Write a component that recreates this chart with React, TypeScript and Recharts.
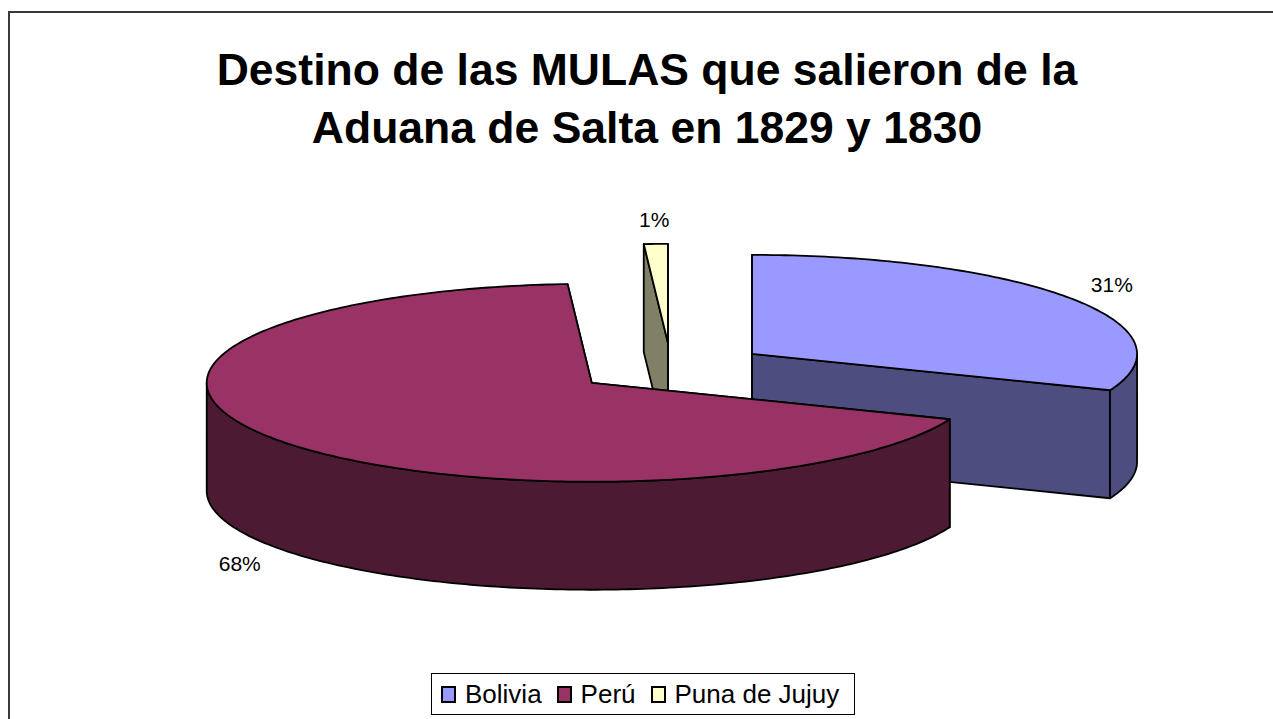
import { Pie, PieChart } from 'recharts';

const categories = ['Bolivia', 'Perú', 'Puna de Jujuy'];
const shares = [31, 68, 1];
const topColors = ['#9999FF', '#993366', '#FFFFCC'];
const sideColors = ['#4D4D80', '#4D1A33', '#808066'];

const TITLE = ['Destino de las MULAS que salieron de la', 'Aduana de Salta en 1829 y 1830'];

// flattened 3D look: vertical squash, thickness and explode distance
const TILT = 0.257;
const DEPTH = 108;
const EXPLODE = 98;
const RADIUS = 385;
const RAD = Math.PI / 180;

// Perú has to be painted last so its top covers the two other slices,
// so the pie starts at the Puna edge and goes clockwise
const drawOrder = [2, 0, 1];
const rows = drawOrder.map((i) => ({
  name: categories[i],
  value: shares[i],
  top: topColors[i],
  side: sideColors[i]
}));
const total = shares.reduce((a, b) => a + b, 0);
const START = 90 + (360 * shares[2]) / total;

function offset(cx: number, cy: number, mid: number) {
  return [cx + EXPLODE * Math.cos(mid * RAD), cy - EXPLODE * TILT * Math.sin(mid * RAD)];
}

function Slice3D(props: any) {
  const { cx, cy, outerRadius, startAngle, endAngle, midAngle } = props;
  const top = props.top ?? props.payload?.top;
  const side = props.side ?? props.payload?.side;
  const lo = Math.min(startAngle, endAngle);
  const hi = Math.max(startAngle, endAngle);
  const [ox, oy] = offset(cx, cy, midAngle);
  const pt = (a: number, z = 0) => [ox + outerRadius * Math.cos(a * RAD), oy - outerRadius * TILT * Math.sin(a * RAD) + z];
  const arc = (a0: number, a1: number, z: number) => {
    const n = Math.max(2, Math.ceil(Math.abs(a1 - a0)));
    const out: number[][] = [];
    for (let i = 0; i <= n; i++) out.push(pt(a0 + ((a1 - a0) * i) / n, z));
    return out;
  };
  const path = (pts: number[][]) => 'M' + pts.map((p) => `${p[0].toFixed(2)},${p[1].toFixed(2)}`).join('L') + 'Z';
  const c = [ox, oy];
  const cd = [ox, oy + DEPTH];

  const faces: string[] = [];
  [lo, hi].forEach((a) => faces.push(path([c, pt(a), pt(a, DEPTH), cd])));

  const walls: string[] = [];
  for (let n = -2; n <= 1; n++) {
    const a0 = Math.max(lo, -180 + 360 * n);
    const a1 = Math.min(hi, 360 * n);
    if (a1 > a0) walls.push(path([...arc(a0, a1, 0), ...arc(a1, a0, DEPTH)]));
  }

  const stroke = { stroke: '#000', strokeWidth: 1.8, strokeLinejoin: 'round' as const };
  return (
    <g>
      {faces.map((d, i) => <path key={'f' + i} d={d} fill={side} {...stroke} />)}
      {walls.map((d, i) => <path key={'w' + i} d={d} fill={side} {...stroke} />)}
      <path d={path([c, ...arc(lo, hi, 0)])} fill={top} {...stroke} />
    </g>
  );
}

function renderLabel(props: any) {
  const { cx, cy, midAngle, outerRadius, percent } = props;
  const [ox, oy] = offset(cx, cy, midAngle);
  const s = Math.sin(midAngle * RAD);
  const x = ox + 1.13 * outerRadius * Math.cos(midAngle * RAD);
  const y = oy - 1.13 * outerRadius * TILT * s + (s < 0 ? DEPTH : 0) - 12 * s;
  return (
    <text x={x} y={y} textAnchor="middle" dominantBaseline="central" fontSize={21} fill="#000" fontFamily="'Liberation Sans', Arial, sans-serif">
      {`${Math.round(percent * 100)}%`}
    </text>
  );
}

export default function App() {
  return (
    <div
      style={{
        position: 'absolute',
        left: 8,
        top: 11,
        width: 1265,
        height: 708,
        boxSizing: 'border-box',
        borderTop: '2px solid #3a3a3a',
        borderLeft: '2px solid #3a3a3a',
        overflow: 'hidden',
        background: '#fff',
        fontFamily: "'Liberation Sans', Arial, sans-serif"
      }}
    >
      <div
        style={{
          position: 'absolute',
          left: 0,
          top: 28,
          width: 1274,
          textAlign: 'center',
          fontSize: 44.5,
          fontWeight: 700,
          lineHeight: '58px',
          color: '#000'
        }}
      >
        {TITLE.map((line) => (
          <div key={line}>{line}</div>
        ))}
      </div>
      <div style={{ position: 'absolute', left: 0, top: 0 }}>
        <PieChart width={1263} height={706}>
          <Pie
            data={rows}
            dataKey="value"
            nameKey="name"
            cx={656}
            cy={350}
            outerRadius={RADIUS}
            startAngle={START}
            endAngle={START - 360}
            stroke="none"
            labelLine={false}
            label={renderLabel}
            shape={Slice3D}
            activeShape={Slice3D}
            inactiveShape={Slice3D}
            isAnimationActive={false}
          />
        </PieChart>
      </div>
      <div
        style={{
          position: 'absolute',
          left: 421,
          top: 660,
          width: 424,
          height: 42,
          boxSizing: 'border-box',
          border: '1px solid #000',
          display: 'flex',
          alignItems: 'center',
          paddingLeft: 9,
          fontSize: 26,
          whiteSpace: 'nowrap',
          overflow: 'hidden',
          color: '#000'
        }}
      >
        {categories.map((name, i) => (
          <span key={name} style={{ display: 'flex', alignItems: 'center', flexShrink: 0, marginRight: 15 }}>
            <i style={{ display: 'inline-block', flexShrink: 0, width: 11, height: 13, border: '2px solid #000', background: topColors[i], marginRight: 9 }} />
            {name}
          </span>
        ))}
      </div>
    </div>
  );
}
